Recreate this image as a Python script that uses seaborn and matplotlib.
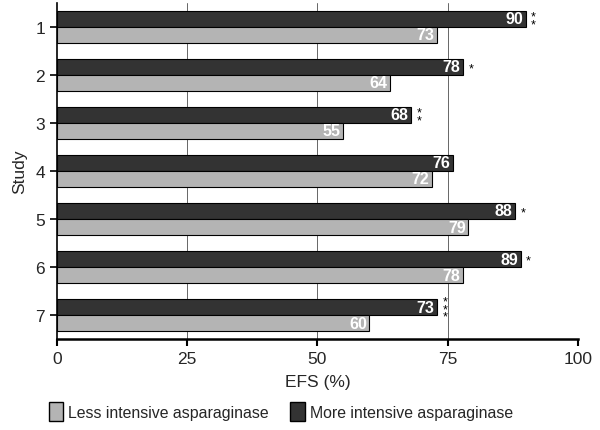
import matplotlib
matplotlib.use("Agg")
import matplotlib.pyplot as plt
import seaborn as sns
import pandas as pd
from matplotlib.patches import Patch

studies = ["1", "2", "3", "4", "5", "6", "7"]
more_intensive = [90, 78, 68, 76, 88, 89, 73]
less_intensive = [73, 64, 55, 72, 79, 78, 60]
stars = ["**", "*", "**", "", "*", "*", "***"]
x_ticks = [0, 25, 50, 75, 100]

sns.set_theme(style="white")
plt.rcParams['font.family'] = ['Liberation Sans', 'DejaVu Sans']

more_label = "More intensive asparaginase"
less_label = "Less intensive asparaginase"
df = pd.DataFrame({
    "Study": studies * 2,
    "EFS": more_intensive + less_intensive,
    "Group": [more_label] * len(studies) + [less_label] * len(studies),
})

dark = "#333333"
light = "#b4b4b4"

fig = plt.figure(figsize=(6.0, 4.31), dpi=100)
ax = fig.add_axes([0.095, 0.211, 0.868, 0.78])

for xv in x_ticks[1:]:
    ax.axvline(xv, color="#666666", lw=0.7, zorder=0)

sns.barplot(data=df, x="EFS", y="Study", hue="Group", orient="h",
            hue_order=[more_label, less_label],
            palette=[dark, light], width=0.667, edgecolor="black",
            linewidth=0.8, ax=ax, legend=False, zorder=2)

for cont, vals in zip(ax.containers, [more_intensive, less_intensive]):
    for bar, v in zip(cont, vals):
        yc = bar.get_y() + bar.get_height() / 2
        ax.text(bar.get_width() - 0.5, yc, str(v), ha="right", va="center",
                color="white", fontsize=11.5, fontweight="bold", zorder=3)

for bar, s in zip(ax.containers[0], stars):
    if not s:
        continue
    yc = bar.get_y() + bar.get_height() / 2
    ax.text(bar.get_width() + 1.0, yc + 0.04, "\n".join(s), ha="left", va="center",
            fontsize=9, linespacing=0.55, color="black", zorder=3)

ax.set_xlim(0, 100)
ax.set_ylim(len(studies) - 0.5, -0.5)
ax.set_xticks(x_ticks)
ax.set_xlabel("EFS (%)", fontsize=12.5, labelpad=6)
ax.set_ylabel("Study", fontsize=12.5, labelpad=6)
ax.tick_params(axis="x", labelsize=12.5, length=5, width=1.5, direction="out",
               bottom=True, color="black")
ax.tick_params(axis="y", labelsize=12.5, length=5, width=1.2, direction="out",
               left=True, color="black")
for side in ["top", "right"]:
    ax.spines[side].set_visible(False)
ax.spines["bottom"].set_linewidth(1.8)
ax.spines["bottom"].set_color("black")
ax.spines["left"].set_linewidth(1.2)
ax.spines["left"].set_color("black")

handles = [Patch(facecolor=light, edgecolor="black", label=less_label),
           Patch(facecolor=dark, edgecolor="black", label=more_label)]
fig.legend(handles=handles, loc="lower left", bbox_to_anchor=(0.063, -0.005),
           ncol=2, frameon=False, fontsize=11.4, handlelength=0.9,
           handleheight=1.45, handletextpad=0.33, columnspacing=1.35,
           borderaxespad=0.3)

fig.savefig("out.png", dpi=100)
